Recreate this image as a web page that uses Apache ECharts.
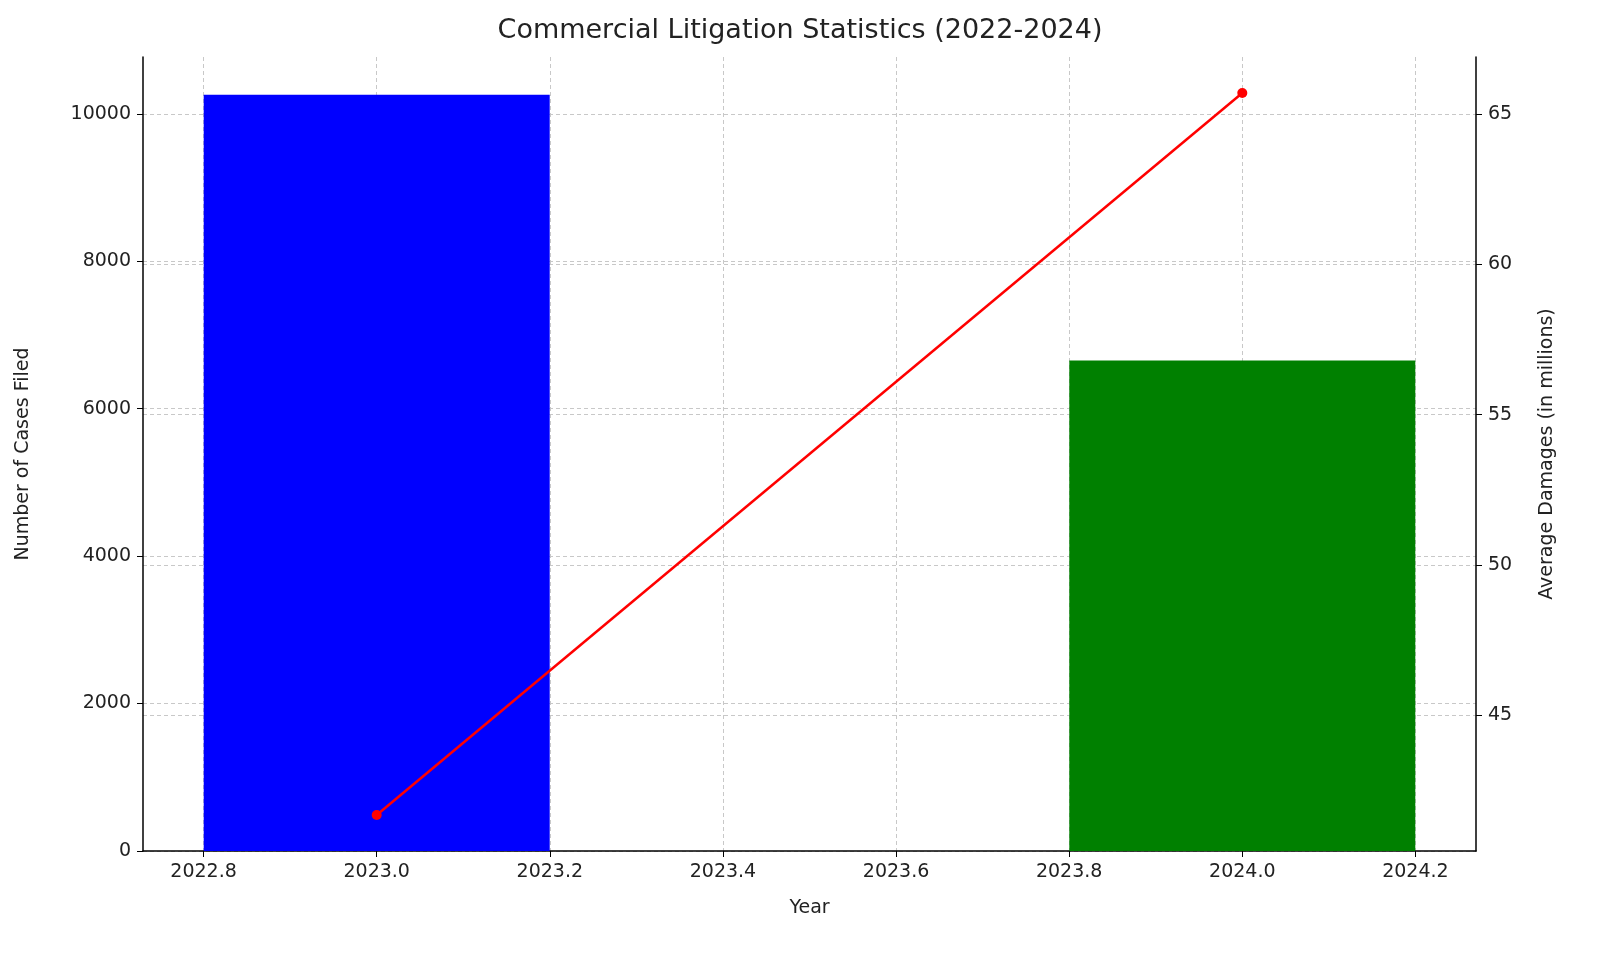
<!DOCTYPE html>
<html>
<head>
<meta charset="utf-8">
<script src="https://cdn.jsdelivr.net/npm/echarts@6/dist/echarts.min.js"></script>
<style>html,body{margin:0;padding:0;background:#fff}#main{width:1600px;height:954px}</style>
</head>
<body>
<div id="main"></div>
<script>
const years = [2023, 2024];
const casesFiled = [10257, 6653];
const barColors = ['#0000ff', '#008000'];
const avgDamages = [41.68, 65.7];
const xTicks = [2022.8, 2023.0, 2023.2, 2023.4, 2023.6, 2023.8, 2024.0, 2024.2];
const leftTicks = [0, 2000, 4000, 6000, 8000, 10000];
const rightTicks = [45, 50, 55, 60, 65];

const font = 'DejaVu Sans';
const dashed = { show: true, lineStyle: { color: '#c8c8c8', type: [4, 3], width: 1 } };
const axisText = { color: '#222', fontSize: 19, fontFamily: font };

var chart = echarts.init(document.getElementById('main'));
chart.setOption({
  animation: false,
  title: { text: 'Commercial Litigation Statistics (2022-2024)', left: 'center', top: 12,
    textStyle: { fontSize: 27, fontWeight: 'normal', color: '#222', fontFamily: font } },
  grid: { left: 143, right: 124, top: 57, bottom: 103 },
  xAxis: {
    type: 'value', min: 2022.73, max: 2024.27,
    name: 'Year', nameLocation: 'middle', nameGap: 48,
    nameTextStyle: { fontSize: 19, color: '#222', fontFamily: font },
    axisLine: { lineStyle: { color: '#000', width: 1.5 } },
    axisTick: { show: true, customValues: xTicks, length: 6, lineStyle: { color: '#000' } },
    axisLabel: Object.assign({ customValues: xTicks, formatter: v => v.toFixed(1), margin: 12 }, axisText),
    splitLine: dashed
  },
  yAxis: [{
    type: 'value', min: 0, max: 10770,
    name: 'Number of Cases Filed', nameLocation: 'middle', nameGap: 110,
    nameTextStyle: { fontSize: 19, color: '#222', fontFamily: font },
    axisLine: { show: true, lineStyle: { color: '#000', width: 1.5 } },
    axisTick: { show: true, customValues: leftTicks, length: 6, lineStyle: { color: '#000' } },
    axisLabel: Object.assign({ customValues: leftTicks, formatter: v => String(v), margin: 12 }, axisText),
    splitLine: dashed
  }, {
    type: 'value', min: 40.48, max: 66.9,
    name: 'Average Damages (in millions)', nameLocation: 'middle', nameGap: 62, nameRotate: 90,
    nameTextStyle: { fontSize: 19, color: '#222', fontFamily: font },
    axisLine: { show: true, lineStyle: { color: '#000', width: 1.5 } },
    axisTick: { show: true, customValues: rightTicks, length: 6, lineStyle: { color: '#000' } },
    axisLabel: Object.assign({ customValues: rightTicks, margin: 12 }, axisText),
    splitLine: dashed
  }],
  series: [{
    type: 'bar', barWidth: 346,
    data: years.map((y, i) => ({ value: [y, casesFiled[i]], itemStyle: { color: barColors[i] } }))
  }, {
    type: 'line', yAxisIndex: 1, symbol: 'circle', symbolSize: 10,
    lineStyle: { color: '#ff0000', width: 2.5 }, itemStyle: { color: '#ff0000' },
    data: years.map((y, i) => [y, avgDamages[i]])
  }]
});
</script>
</body>
</html>
